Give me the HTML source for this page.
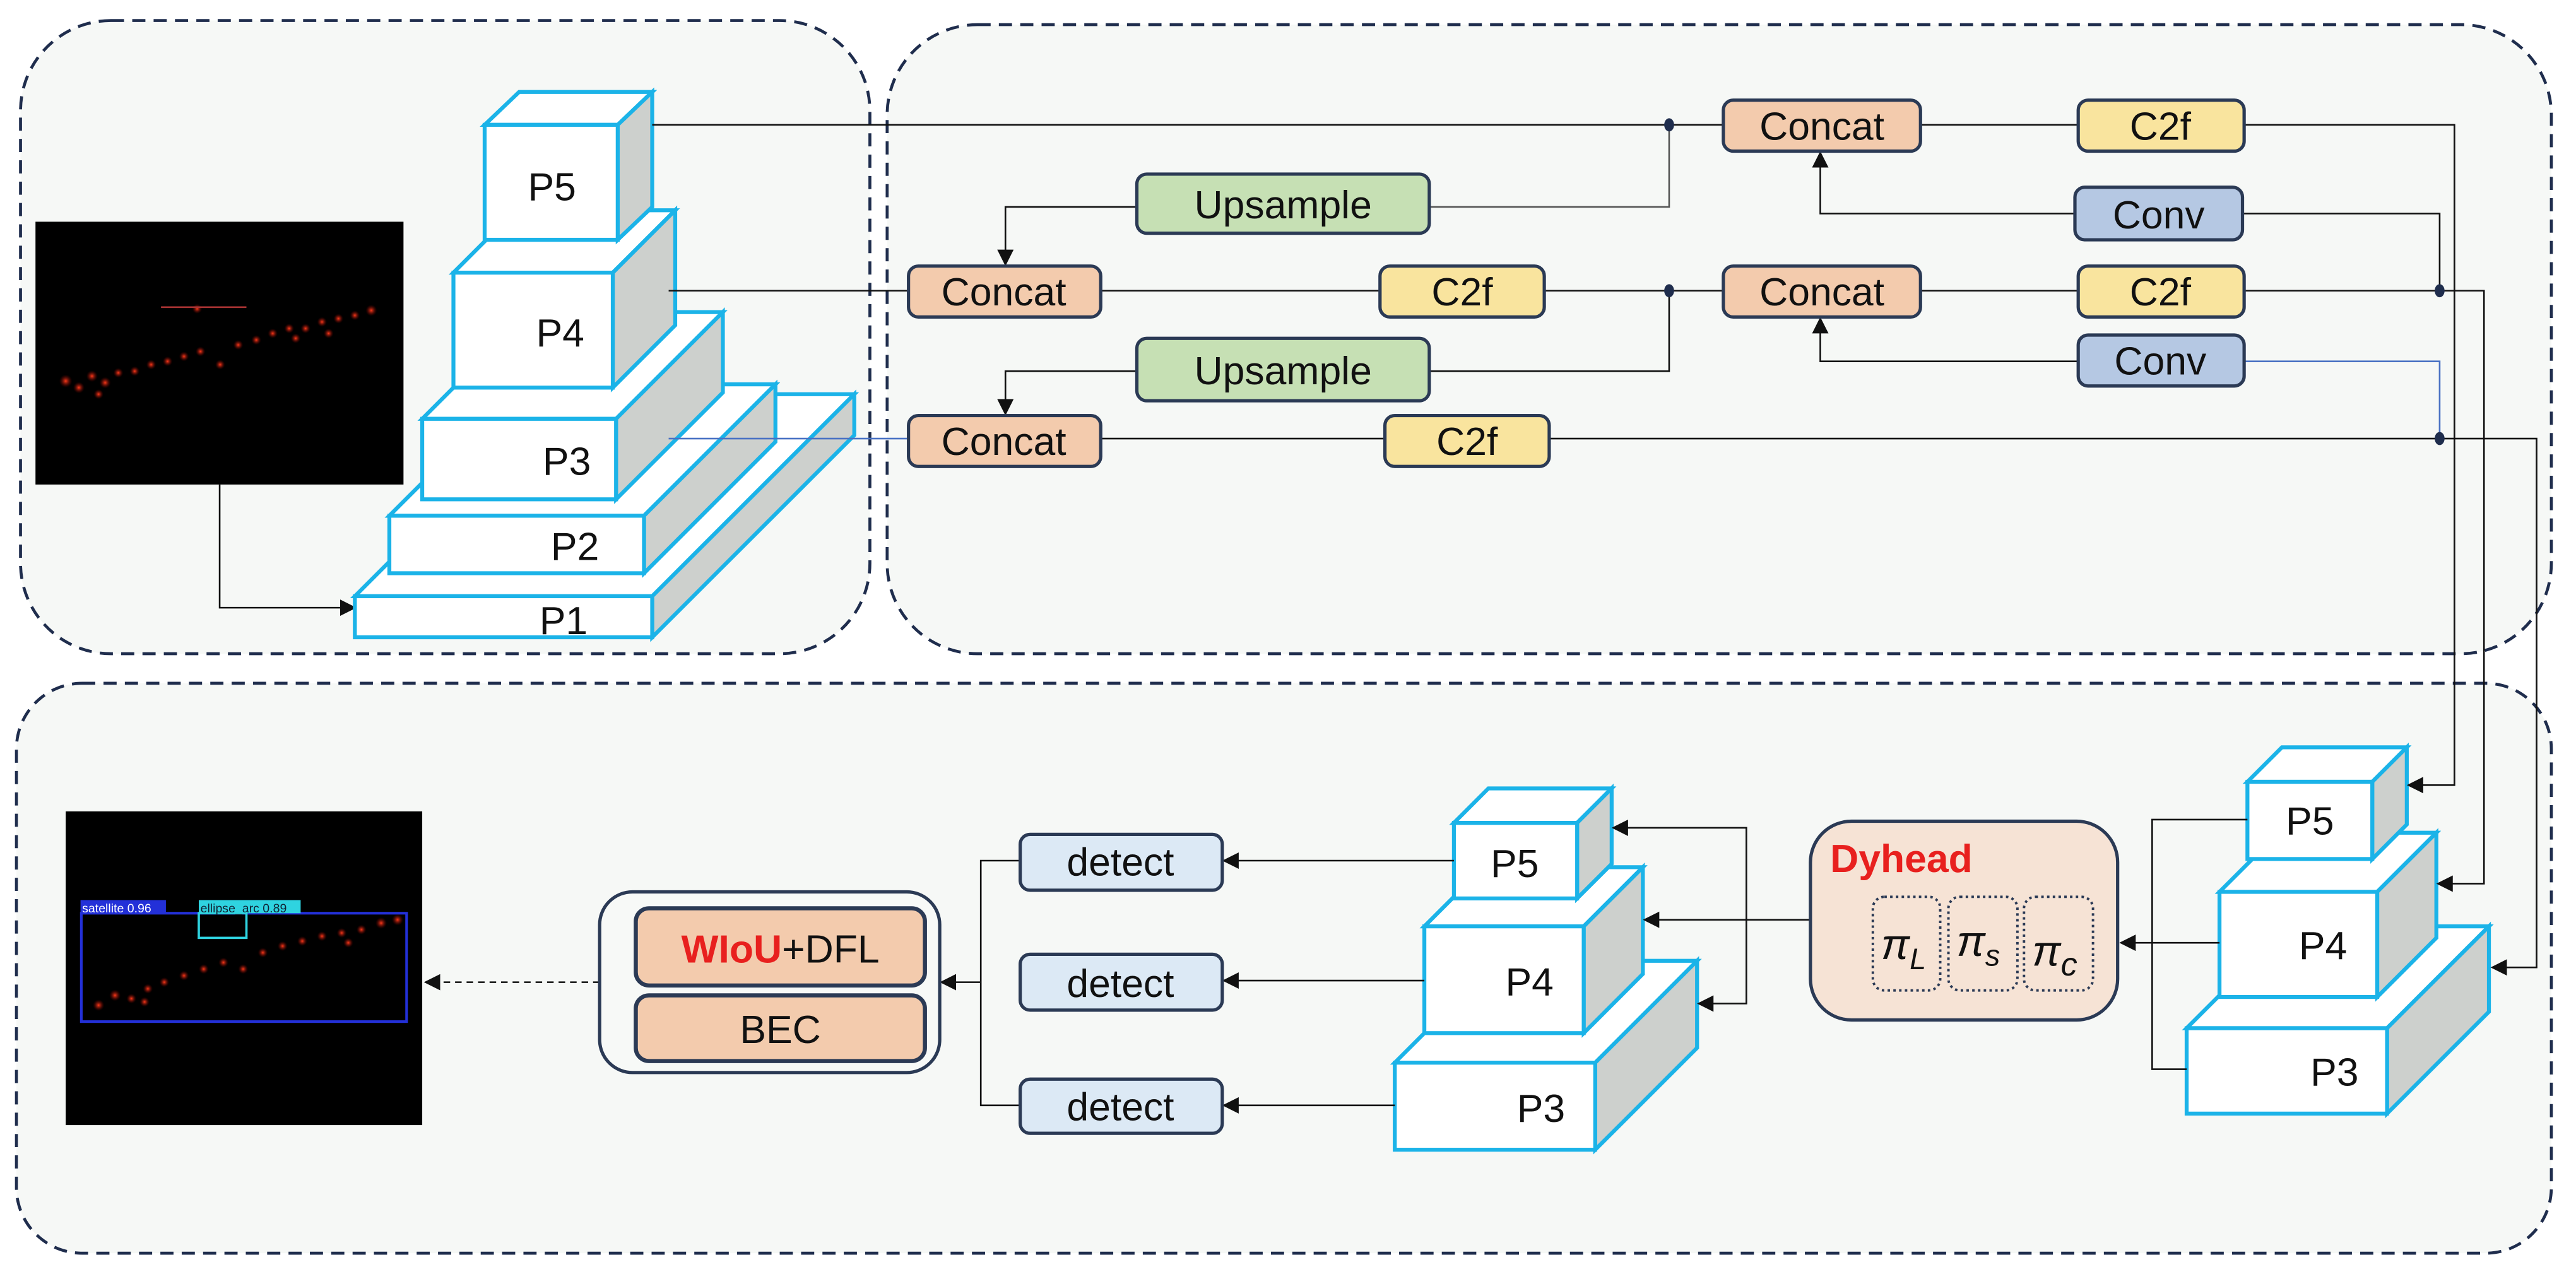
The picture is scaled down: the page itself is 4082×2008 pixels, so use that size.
<!DOCTYPE html>
<html><head><meta charset="utf-8"><style>
html,body{margin:0;padding:0;background:#fff;}
svg{display:block;}
text{font-family:"Liberation Sans",sans-serif;}
</style></head><body>
<svg width="4082" height="2008" viewBox="0 0 1568 771.4" preserveAspectRatio="none" xmlns="http://www.w3.org/2000/svg">
<defs>
<marker id="ar" markerWidth="10" markerHeight="10" refX="9" refY="5" orient="auto" markerUnits="userSpaceOnUse">
<path d="M0,0 L10,5 L0,10 Z" fill="#111"/></marker>
<radialGradient id="rd"><stop offset="0" stop-color="#ff3a1a"/><stop offset="1" stop-color="#600" stop-opacity="0"/></radialGradient>
</defs>
<rect width="1568" height="771.4" fill="#fff"/>
<!-- panels -->
<g fill="#f6f8f6" stroke="#1f2d4d" stroke-width="1.8" stroke-dasharray="8 5">
<rect x="12.5" y="12.5" width="517" height="385.5" rx="55"/>
<rect x="540" y="15" width="1013" height="383" rx="55"/>
<rect x="10" y="416" width="1543" height="347" rx="40"/>
</g>

<!-- top-left image -->
<rect x="21.6" y="135" width="224" height="160" fill="#000"/>
<g fill="url(#rd)">
<circle cx="40" cy="232" r="4"/><circle cx="48" cy="236" r="3.5"/><circle cx="56" cy="229" r="3.5"/><circle cx="64" cy="233" r="3.5"/><circle cx="72" cy="227" r="3"/><circle cx="82" cy="226" r="3"/><circle cx="92" cy="222" r="3"/><circle cx="102" cy="220" r="3"/><circle cx="112" cy="217" r="3"/><circle cx="122" cy="214" r="3"/><circle cx="134" cy="222" r="3"/><circle cx="145" cy="210" r="3"/><circle cx="156" cy="207" r="3"/><circle cx="166" cy="203" r="3"/><circle cx="176" cy="200" r="3"/><circle cx="186" cy="200" r="3"/><circle cx="196" cy="196" r="3"/><circle cx="206" cy="194" r="3"/><circle cx="216" cy="192" r="3"/><circle cx="226" cy="189" r="3.5"/><circle cx="60" cy="240" r="3"/><circle cx="180" cy="206" r="3"/><circle cx="200" cy="203" r="3"/><circle cx="120" cy="188" r="3"/>
</g>
<line x1="98" y1="187" x2="150" y2="187" stroke="#a33" stroke-width="1"/>
<polyline points="133.7,295 133.7,370 216,370" fill="none" stroke="#111" stroke-width="1" marker-end="url(#ar)"/>

<!-- boxes -->
<g stroke="#1bb3e8" stroke-width="2.4" stroke-linejoin="miter">
<!-- top-left P1..P5 -->
<g id="b">
<polygon points="216,363 339,240 520,240 397,363" fill="#fff"/>
<polygon points="397,363 520,240 520,265 397,388" fill="#cdd0cd"/>
<rect x="216" y="363" width="181" height="25" fill="#fff"/>
<polygon points="237,314 317,234 472,234 392,314" fill="#fff"/>
<polygon points="392,314 472,234 472,269 392,349" fill="#cdd0cd"/>
<rect x="237" y="314" width="155" height="35" fill="#fff"/>
<polygon points="257,255 322,190 440,190 375,255" fill="#fff"/>
<polygon points="375,255 440,190 440,239 375,304" fill="#cdd0cd"/>
<rect x="257" y="255" width="118" height="49" fill="#fff"/>
<polygon points="276,166 314,128 411,128 373,166" fill="#fff"/>
<polygon points="373,166 411,128 411,198 373,236" fill="#cdd0cd"/>
<rect x="276" y="166" width="97" height="70" fill="#fff"/>
<polygon points="295,76 316,56 397,56 376,76" fill="#fff"/>
<polygon points="376,76 397,56 397,126 376,146" fill="#cdd0cd"/>
<rect x="295" y="76" width="81" height="70" fill="#fff"/>
</g>
<!-- middle bottom -->
<polygon points="849,647 911,585 1033,585 971,647" fill="#fff"/>
<polygon points="971,647 1033,585 1033,638 971,700" fill="#cdd0cd"/>
<rect x="849" y="647" width="122" height="53" fill="#fff"/>
<polygon points="867,564 903,528 1000,528 964,564" fill="#fff"/>
<polygon points="964,564 1000,528 1000,593 964,629" fill="#cdd0cd"/>
<rect x="867" y="564" width="97" height="65" fill="#fff"/>
<polygon points="885,501 906,480 981,480 960,501" fill="#fff"/>
<polygon points="960,501 981,480 981,526 960,547" fill="#cdd0cd"/>
<rect x="885" y="501" width="75" height="46" fill="#fff"/>
<!-- right bottom -->
<polygon points="1331,626 1393,564 1515,564 1453,626" fill="#fff"/>
<polygon points="1453,626 1515,564 1515,616 1453,678" fill="#cdd0cd"/>
<rect x="1331" y="626" width="122" height="52" fill="#fff"/>
<polygon points="1351,543 1387,507 1483,507 1447,543" fill="#fff"/>
<polygon points="1447,543 1483,507 1483,571 1447,607" fill="#cdd0cd"/>
<rect x="1351" y="543" width="96" height="64" fill="#fff"/>
<polygon points="1368,476 1389,455 1465,455 1444,476" fill="#fff"/>
<polygon points="1444,476 1465,455 1465,502 1444,523" fill="#cdd0cd"/>
<rect x="1368" y="476" width="76" height="47" fill="#fff"/>
</g>
<g font-size="24" fill="#111" text-anchor="middle">
<text x="336" y="122">P5</text><text x="341" y="211">P4</text><text x="345" y="289">P3</text><text x="350" y="341">P2</text><text x="343" y="386">P1</text>
<text x="922" y="534">P5</text><text x="931" y="606">P4</text><text x="938" y="683">P3</text>
<text x="1406" y="508">P5</text><text x="1414" y="584">P4</text><text x="1421" y="661">P3</text>
</g>

<!-- connectors top -->
<g fill="none" stroke="#111" stroke-width="1">
<line x1="397" y1="76" x2="1049" y2="76"/>
<polyline points="1016,76 1016,126 870,126" stroke="#555"/>
<polyline points="692,126 612,126 612,161" marker-end="url(#ar)"/>
<line x1="407" y1="177" x2="553" y2="177"/>
<line x1="670" y1="177" x2="840" y2="177"/>
<line x1="940" y1="177" x2="1049" y2="177"/>
<polyline points="1016,177 1016,226 870,226"/>
<polyline points="692,226 612,226 612,252" marker-end="url(#ar)"/>
<line x1="407" y1="267" x2="553" y2="267" stroke="#4a72c4"/>
<line x1="670" y1="267" x2="843" y2="267"/>
<polyline points="943,267 1544,267 1544,589 1517,589" marker-end="url(#ar)"/>
<line x1="1169" y1="76" x2="1265" y2="76"/>
<polyline points="1365,76 1494,76 1494,478 1466,478" marker-end="url(#ar)"/>
<polyline points="1263,130 1108,130 1108,93" marker-end="url(#ar)"/>
<polyline points="1365,130 1485,130 1485,177"/>
<line x1="1169" y1="177" x2="1265" y2="177"/>
<polyline points="1365,177 1512,177 1512,538 1484,538" marker-end="url(#ar)"/>
<polyline points="1265,220 1108,220 1108,194" marker-end="url(#ar)"/>
<polyline points="1365,220 1485,220 1485,267" stroke="#4a72c4"/>
</g>
<g fill="#1f2d4d"><ellipse cx="1016" cy="76" rx="3" ry="4"/><ellipse cx="1016" cy="177" rx="3" ry="4"/><ellipse cx="1485" cy="177" rx="3" ry="4"/><ellipse cx="1485" cy="267" rx="3" ry="4"/></g>

<!-- nodes top -->
<g stroke="#2b3a55" stroke-width="2">
<rect x="1049" y="61" width="120" height="31" rx="6" fill="#f3cbad"/>
<rect x="1265" y="61" width="101" height="31" rx="6" fill="#f9e49e"/>
<rect x="692" y="106" width="178" height="36" rx="6" fill="#c6e0b4"/>
<rect x="1263" y="114" width="102" height="32" rx="6" fill="#b5c8e3"/>
<rect x="553" y="162" width="117" height="31" rx="6" fill="#f3cbad"/>
<rect x="840" y="162" width="100" height="31" rx="6" fill="#f9e49e"/>
<rect x="1049" y="162" width="120" height="31" rx="6" fill="#f3cbad"/>
<rect x="1265" y="162" width="101" height="31" rx="6" fill="#f9e49e"/>
<rect x="692" y="206" width="178" height="38" rx="6" fill="#c6e0b4"/>
<rect x="1265" y="204" width="101" height="31" rx="6" fill="#b5c8e3"/>
<rect x="553" y="253" width="117" height="31" rx="6" fill="#f3cbad"/>
<rect x="843" y="253" width="100" height="31" rx="6" fill="#f9e49e"/>
</g>
<g font-size="24" fill="#111" text-anchor="middle">
<text x="1109" y="85">Concat</text><text x="1315" y="85">C2f</text><text x="781" y="133">Upsample</text><text x="1314" y="139">Conv</text>
<text x="611" y="186">Concat</text><text x="890" y="186">C2f</text><text x="1109" y="186">Concat</text><text x="1315" y="186">C2f</text>
<text x="781" y="234">Upsample</text><text x="1315" y="228">Conv</text>
<text x="611" y="277">Concat</text><text x="893" y="277">C2f</text>
</g>

<!-- bottom connectors -->
<g fill="none" stroke="#111" stroke-width="1">
<polyline points="1368,499 1310,499 1310,651 1331,651"/>
<line x1="1351" y1="574" x2="1291" y2="574" marker-end="url(#ar)"/>
<line x1="1102" y1="560" x2="1001" y2="560" marker-end="url(#ar)"/>
<polyline points="1063,560 1063,504 982,504" marker-end="url(#ar)"/>
<polyline points="1063,560 1063,611 1034,611" marker-end="url(#ar)"/>
<line x1="885" y1="524" x2="745" y2="524" marker-end="url(#ar)"/>
<line x1="867" y1="597" x2="745" y2="597" marker-end="url(#ar)"/>
<line x1="849" y1="673" x2="745" y2="673" marker-end="url(#ar)"/>
<polyline points="621,524 597,524 597,673 621,673"/>
<line x1="597" y1="598" x2="573" y2="598" marker-end="url(#ar)"/>
<line x1="365" y1="598" x2="259" y2="598" stroke-dasharray="4 3" marker-end="url(#ar)"/>
</g>

<!-- Dyhead -->
<rect x="1102" y="500" width="187" height="121" rx="25" fill="#f6e3d5" stroke="#2b3a55" stroke-width="2"/>
<text x="1114" y="531" font-size="24" font-weight="bold" fill="#e8201e">Dyhead</text>
<g fill="none" stroke="#2b3a55" stroke-width="1.5" stroke-dasharray="1.5 2">
<rect x="1140" y="546" width="41" height="57" rx="7"/><rect x="1186" y="546" width="42" height="57" rx="7"/><rect x="1232" y="546" width="42" height="57" rx="7"/>
</g>
<g font-family="Liberation Serif,serif" font-style="italic" fill="#111" font-size="26">
<text x="1145" y="584">π<tspan font-size="18" dy="6">L</tspan></text>
<text x="1191" y="582">π<tspan font-size="18" dy="6">s</tspan></text>
<text x="1237" y="588">π<tspan font-size="20" dy="6">c</tspan></text>
</g>

<!-- detect -->
<g stroke="#2b3a55" stroke-width="2" fill="#dce9f5">
<rect x="621" y="508" width="123" height="34" rx="6"/><rect x="621" y="581" width="123" height="34" rx="6"/><rect x="621" y="657" width="123" height="33" rx="6"/>
</g>
<g font-size="24" fill="#111" text-anchor="middle">
<text x="682" y="533">detect</text><text x="682" y="607">detect</text><text x="682" y="682">detect</text>
</g>

<!-- loss -->
<rect x="365" y="543" width="207" height="110" rx="20" fill="#f7f9f7" stroke="#2b3a55" stroke-width="2"/>
<rect x="387" y="553" width="176" height="47" rx="8" fill="#f3cbad" stroke="#2b3a55" stroke-width="2.5"/>
<rect x="387" y="606" width="176" height="40" rx="8" fill="#f3cbad" stroke="#2b3a55" stroke-width="2.5"/>
<text x="475" y="586" font-size="24" text-anchor="middle" fill="#111"><tspan fill="#e8201e" font-weight="bold">WIoU</tspan>+DFL</text>
<text x="475" y="635" font-size="24" text-anchor="middle" fill="#111">BEC</text>

<!-- result image -->
<rect x="40" y="494" width="217" height="191" fill="#000"/>
<g fill="url(#rd)">
<circle cx="60" cy="612" r="3.5"/><circle cx="70" cy="606" r="3.5"/><circle cx="80" cy="608" r="3"/><circle cx="90" cy="602" r="3"/><circle cx="100" cy="598" r="3"/><circle cx="112" cy="594" r="3"/><circle cx="124" cy="590" r="3"/><circle cx="136" cy="586" r="3"/><circle cx="148" cy="590" r="3"/><circle cx="160" cy="580" r="3"/><circle cx="172" cy="576" r="3"/><circle cx="184" cy="573" r="3"/><circle cx="196" cy="570" r="3"/><circle cx="208" cy="568" r="3"/><circle cx="220" cy="566" r="3"/><circle cx="232" cy="562" r="3.5"/><circle cx="242" cy="560" r="3.5"/><circle cx="88" cy="610" r="3"/><circle cx="212" cy="574" r="3"/>
</g>
<rect x="49.5" y="556" width="198" height="66" fill="none" stroke="#2330d8" stroke-width="1.6"/>
<rect x="121" y="556" width="29" height="15" fill="none" stroke="#2fd3e0" stroke-width="1.4"/>
<rect x="49" y="548" width="52" height="8" fill="#2330d8"/>
<rect x="121" y="548" width="62" height="8" fill="#2fd3e0"/>
<text x="50" y="555.5" font-size="7.5" fill="#fff">satellite 0.96</text>
<text x="122" y="555.5" font-size="7.5" fill="#123">ellipse_arc 0.89</text>
</svg>
</body></html>
